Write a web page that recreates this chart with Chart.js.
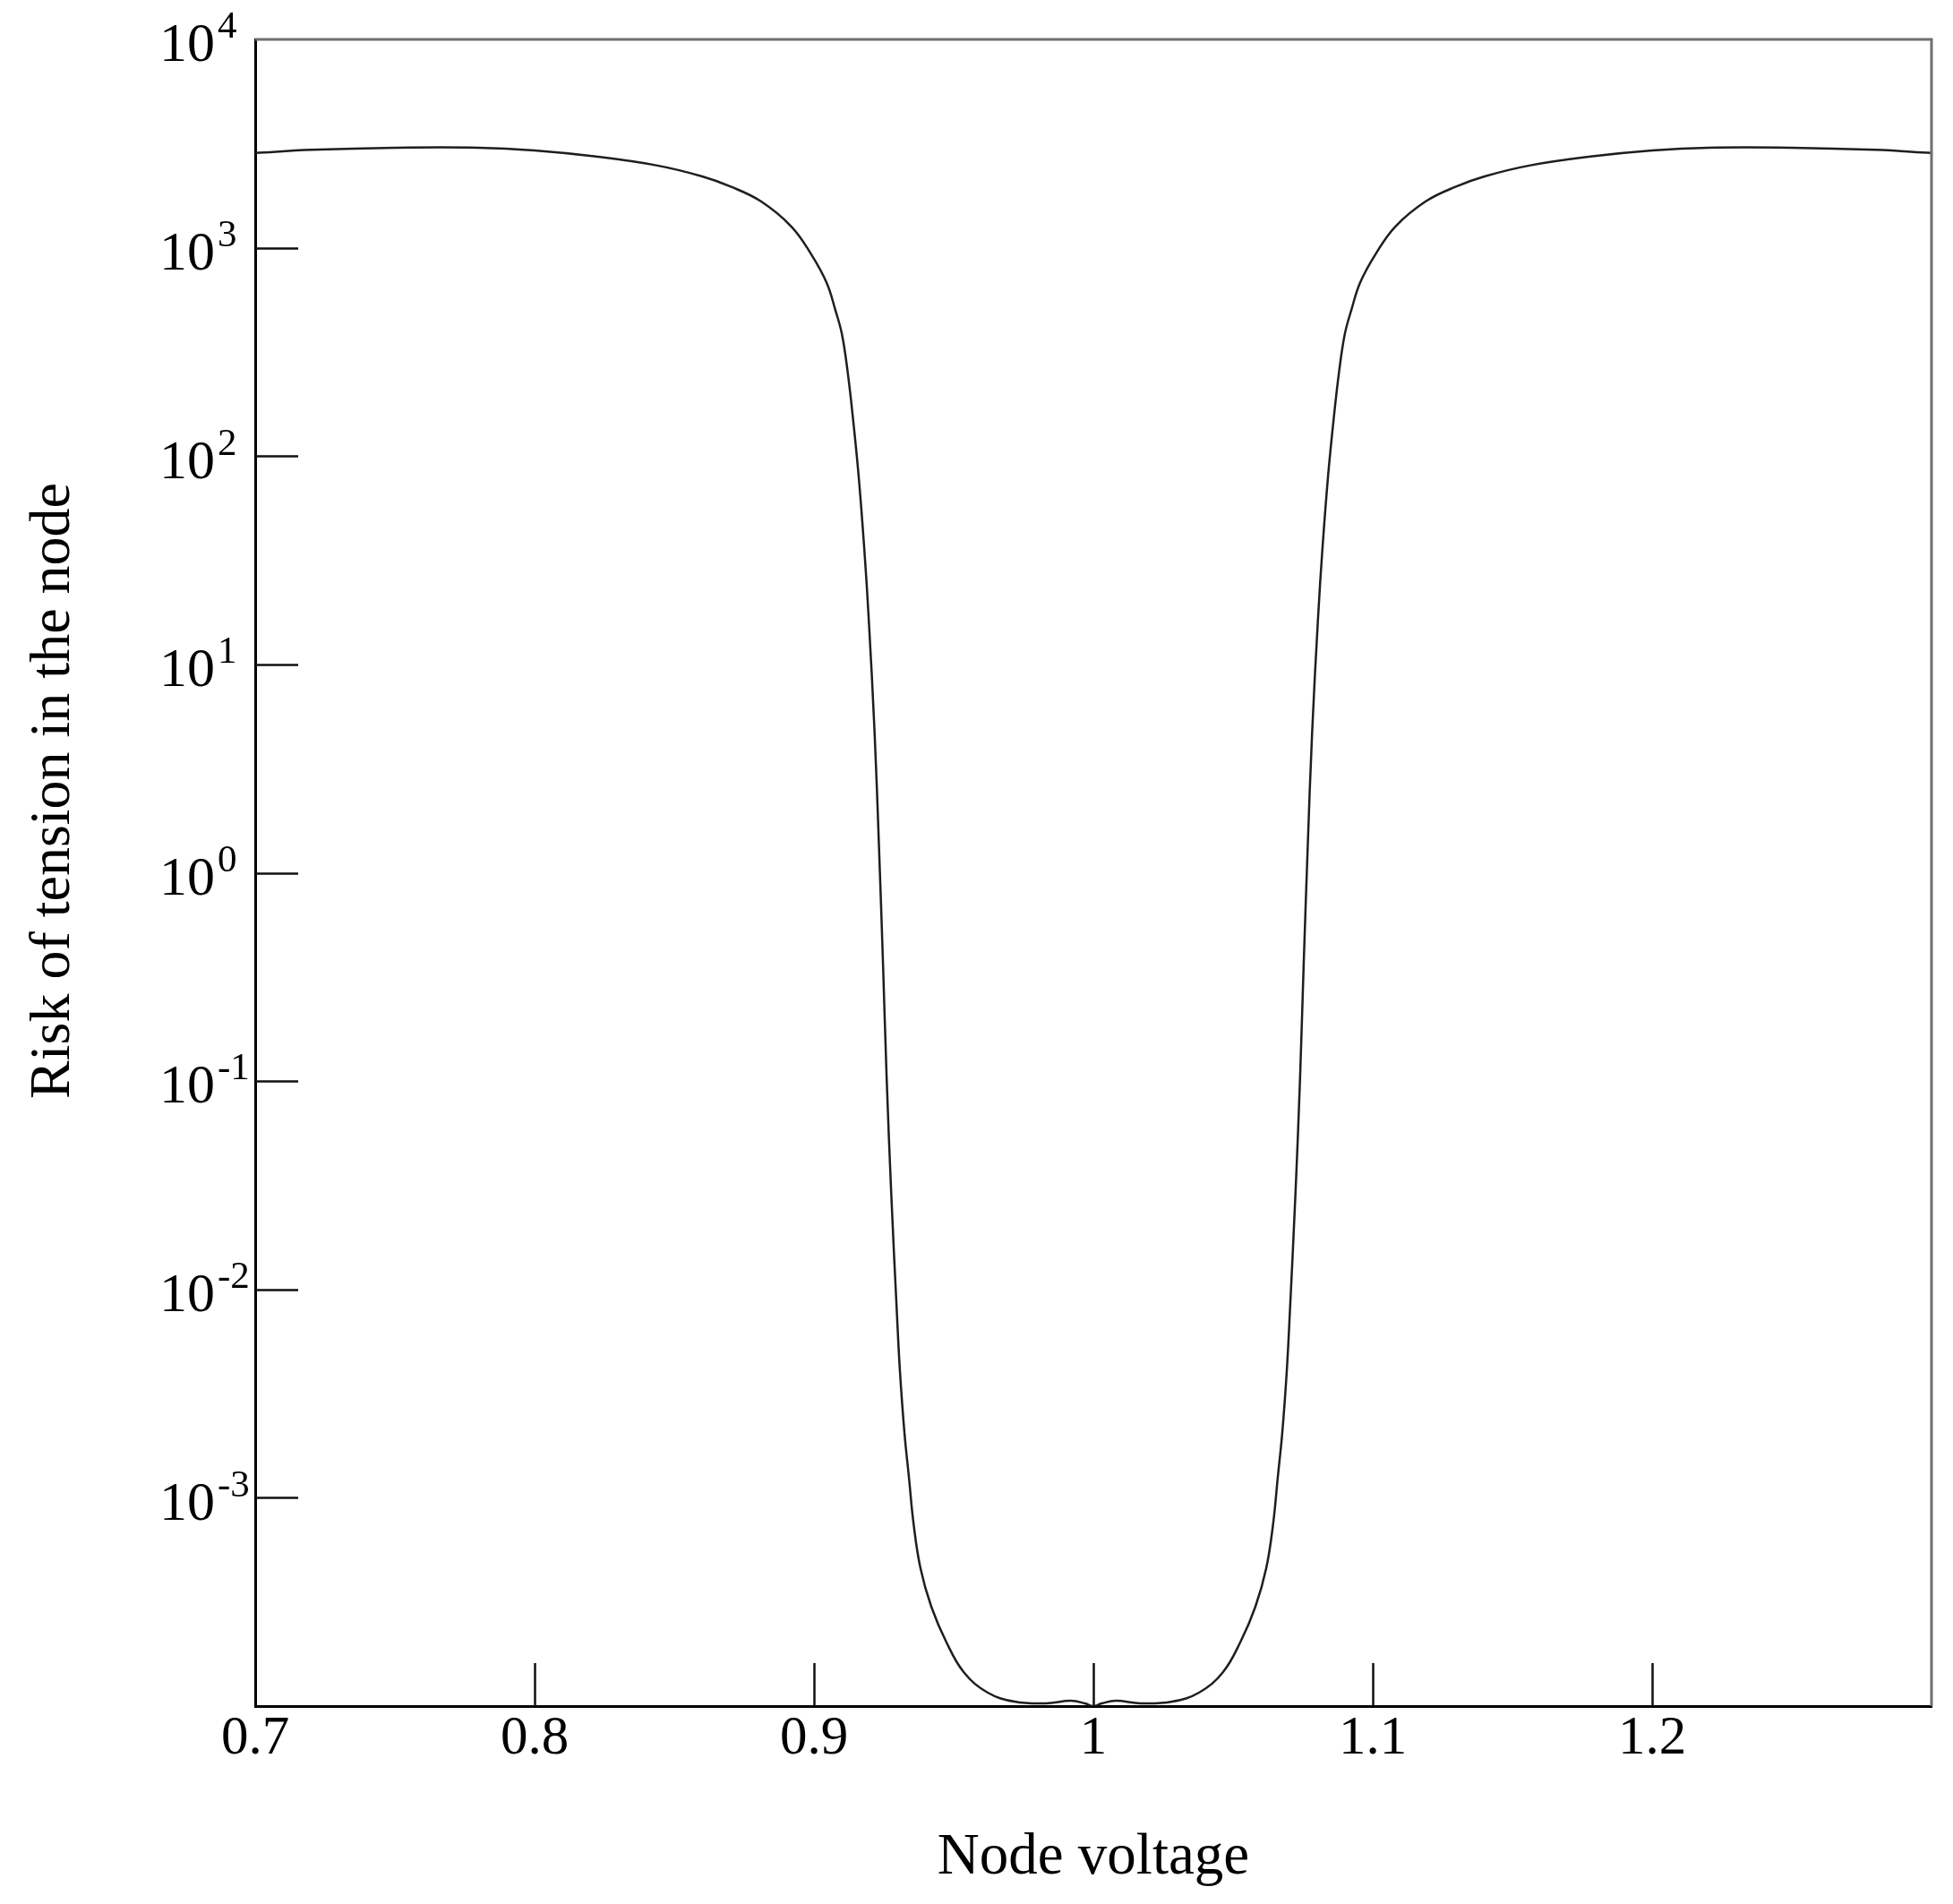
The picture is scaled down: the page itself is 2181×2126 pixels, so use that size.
<!DOCTYPE html>
<html>
<head>
<meta charset="utf-8">
<script src="https://cdn.jsdelivr.net/npm/chart.js@4.4.0/dist/chart.umd.min.js"></script>
<style>
html,body{margin:0;padding:0;background:#fff;}
canvas{display:block;}
</style>
</head>
<body>
<canvas id="c" width="2181" height="2126" style="width:2181px;height:2126px"></canvas>
<script>
// ---- data ----
const voltage = [
  0.700, 0.720, 0.750, 0.780, 0.800, 0.822, 0.844, 0.860, 0.870, 0.881,
  0.892, 0.899, 0.9045, 0.9077, 0.910, 0.912, 0.914, 0.916, 0.918, 0.9196,
  0.9217, 0.9233, 0.9247, 0.926, 0.9276, 0.9297, 0.9308, 0.9324, 0.934, 0.9356,
  0.9381, 0.942, 0.9473, 0.9537, 0.9622, 0.9718, 0.983, 0.992, 0.997, 1.000,
  1.003, 1.008, 1.017, 1.0282, 1.0378, 1.0463, 1.0527, 1.058, 1.0619, 1.0644,
  1.066, 1.0676, 1.0692, 1.0703, 1.0724, 1.074, 1.0753, 1.0767, 1.0783, 1.0804,
  1.082, 1.084, 1.086, 1.088, 1.090, 1.0923, 1.0955, 1.101, 1.108, 1.119,
  1.130, 1.140, 1.156, 1.178, 1.200, 1.220, 1.250, 1.280, 1.300
];
const risk = [
  2850, 2950, 3020, 3020, 2930, 2740, 2480, 2200, 1970, 1670,
  1260, 930, 680, 500, 385, 257, 150, 80, 36, 16.5,
  4.7, 1.3, 0.37, 0.105, 0.030, 0.0076, 0.0040, 0.00204, 0.00125, 0.00076,
  0.00046, 0.00030, 0.000204, 0.000145, 0.000116, 0.000105, 0.000103, 0.000106, 0.000103, 0.0001,
  0.000103, 0.000106, 0.000103, 0.000105, 0.000116, 0.000145, 0.000204, 0.00030, 0.00046, 0.00076,
  0.00125, 0.00204, 0.0040, 0.0076, 0.030, 0.105, 0.37, 1.3, 4.7, 16.5,
  36, 80, 150, 257, 385, 500, 680, 930, 1260, 1670,
  1970, 2200, 2480, 2740, 2930, 3020, 3020, 2950, 2850
];
const xTickValues = [0.7, 0.8, 0.9, 1.0, 1.1, 1.2, 1.3];
const xTickLabels = ['0.7', '0.8', '0.9', '1', '1.1', '1.2', ''];
const xInnerTicks = [0.8, 0.9, 1.0, 1.1, 1.2];
const yTickExponents = [4, 3, 2, 1, 0, -1, -2, -3];
const yInnerTickExponents = [3, 2, 1, 0, -1, -2, -3];
const xTitle = 'Node voltage';
const yTitle = 'Risk of tension in the node';

const FONT = '"Liberation Serif", "Times New Roman", Times, serif';

const framePlugin = {
  id: 'frame',
  afterDraw(chart) {
    const ctx = chart.ctx;
    const a = chart.chartArea;
    const xs = chart.scales.x, ys = chart.scales.y;
    ctx.save();
    // top and right border (grey)
    ctx.strokeStyle = '#6f6f6f';
    ctx.lineWidth = 3;
    ctx.beginPath();
    ctx.moveTo(a.left, a.top);
    ctx.lineTo(a.right, a.top);
    ctx.lineTo(a.right, a.bottom);
    ctx.stroke();
    // inward ticks
    ctx.strokeStyle = '#111';
    ctx.lineWidth = 2.5;
    ctx.beginPath();
    yInnerTickExponents.forEach(e => {
      const py = Math.round(ys.getPixelForValue(Math.pow(10, e))) + 0.5;
      ctx.moveTo(a.left, py);
      ctx.lineTo(a.left + 48, py);
    });
    xInnerTicks.forEach(v => {
      const px = Math.round(xs.getPixelForValue(v)) + 0.5;
      ctx.moveTo(px, a.bottom);
      ctx.lineTo(px, a.bottom - 48);
    });
    ctx.stroke();
    // y tick labels: 10 with superscript exponent
    ctx.fillStyle = '#000';
    ctx.textAlign = 'left';
    ctx.textBaseline = 'middle';
    yTickExponents.forEach(e => {
      const py = ys.getPixelForValue(Math.pow(10, e));
      ctx.font = '62px ' + FONT;
      const w = ctx.measureText('10').width;
      ctx.fillText('10', 178, py + 8);
      ctx.font = '43px ' + FONT;
      ctx.fillText(String(e), 178 + w + 3, py - 13);
    });
    // y axis title
    ctx.save();
    ctx.translate(60, 883);
    ctx.rotate(-Math.PI / 2);
    ctx.textAlign = 'center';
    ctx.textBaseline = 'middle';
    ctx.font = '64px ' + FONT;
    ctx.fillText(yTitle, 0, 0);
    ctx.restore();
    ctx.restore();
  }
};

new Chart(document.getElementById('c').getContext('2d'), {
  type: 'line',
  data: {
    datasets: [{
      data: voltage.map((v, i) => ({ x: v, y: risk[i] })),
      borderColor: '#1e1e1e',
      borderWidth: 2.5,
      pointRadius: 0,
      fill: false,
      tension: 0.4
    }]
  },
  options: {
    responsive: false,
    animation: false,
    devicePixelRatio: 1,
    layout: { padding: { top: 44, right: 24, left: 0, bottom: 0 } },
    plugins: { legend: { display: false }, tooltip: { enabled: false } },
    scales: {
      x: {
        type: 'linear',
        min: 0.7,
        max: 1.3,
        afterBuildTicks: s => { s.ticks = xTickValues.map(v => ({ value: v })); },
        afterFit: s => { s.height = 221; },
        ticks: {
          callback: (v, i) => xTickLabels[i],
          font: { family: FONT, size: 61 },
          color: '#000',
          padding: 0,
          maxRotation: 0,
          autoSkip: false
        },
        grid: { display: false, drawTicks: false },
        border: { display: true, color: '#000', width: 3 },
        title: {
          display: true,
          text: xTitle,
          font: { family: FONT, size: 65 },
          color: '#000',
          padding: { top: 0, bottom: 12 }
        }
      },
      y: {
        type: 'logarithmic',
        min: 1e-4,
        max: 1e4,
        afterBuildTicks: s => { s.ticks = yTickExponents.map(e => ({ value: Math.pow(10, e) })); },
        afterFit: s => { s.width = 285; },
        ticks: { display: false },
        grid: { display: false, drawTicks: false },
        border: { display: true, color: '#000', width: 3 }
      }
    }
  },
  plugins: [framePlugin]
});
</script>
</body>
</html>
